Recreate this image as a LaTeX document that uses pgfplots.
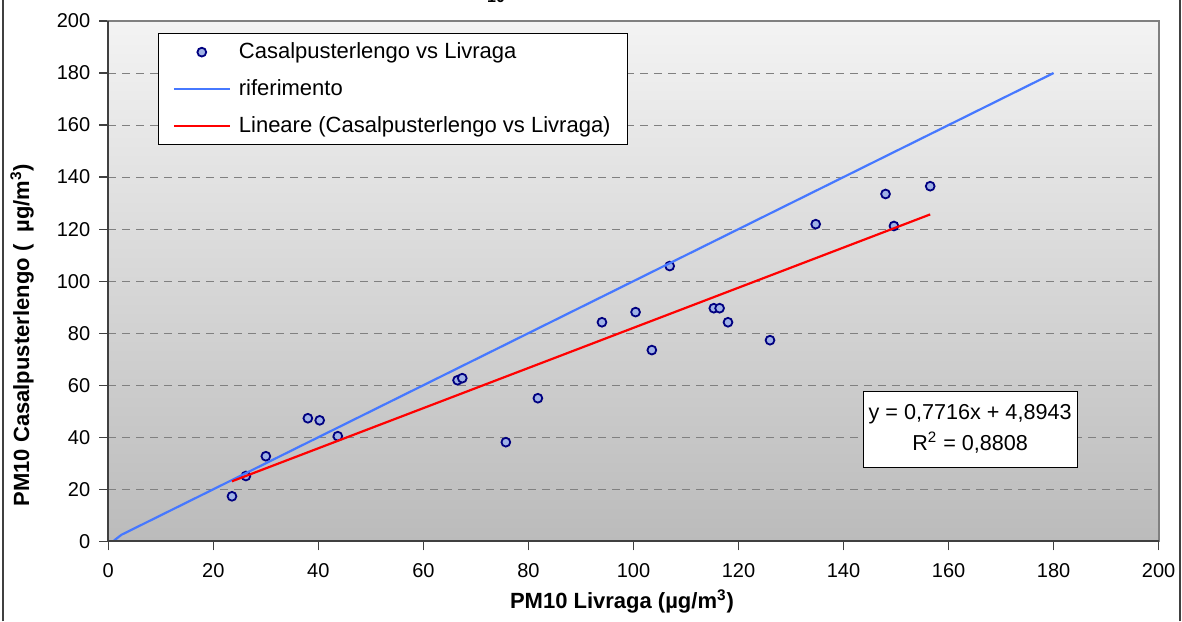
\documentclass[border=0pt]{standalone}
\usepackage{fontspec}
\setmainfont{Liberation Sans}
\usepackage{pgfplots}
\pgfplotsset{compat=1.18}
\definecolor{navy}{RGB}{0,0,128}
\definecolor{mkfill}{RGB}{160,178,230}
\definecolor{refblue}{RGB}{70,120,255}
\definecolor{gridgray}{RGB}{128,128,128}
\definecolor{axdark}{RGB}{64,64,64}
\definecolor{bgtop}{RGB}{243,243,243}
\definecolor{bgbot}{RGB}{187,187,187}

\begin{document}
\begin{tikzpicture}
\begin{axis}[
  scale only axis,
  x=2.6258pt, y=1.30075pt,
  xmin=0, xmax=200, ymin=0, ymax=200,
  xtick={0,20,...,200}, ytick={0,20,...,200},
  tick align=outside,
  major tick length=4.5pt,
  xtick pos=bottom, ytick pos=left,
  tick style={axdark, line width=0.6pt},
  axis line style={draw=gray, line width=1pt},
  ymajorgrids,
  grid style={gridgray, dash pattern=on 4pt off 3pt, line width=0.5pt},
  axis background/.style={top color=bgtop, bottom color=bgbot},
  ticklabel style={font=\fontsize{10}{12}\selectfont},
  xticklabel style={yshift=-3pt},
  yticklabel style={xshift=-1pt},
  /pgf/number format/assume math mode=true,
  clip mode=individual,
  legend style={at={(0.0476,0.9764)}, anchor=north west, draw=black, fill=white,
    font=\fontsize{11}{13}\selectfont, inner xsep=7pt, inner ysep=3pt,
    row sep=6pt, nodes={inner sep=1.5pt},
    /tikz/every odd column/.append style={column sep=2.5pt}},
  legend cell align=left,
  legend image code/.code={\draw[mark repeat=2,mark phase=2,#1] plot coordinates {(0pt,0pt)(14pt,0pt)(28pt,0pt)};},
]
\addplot[only marks, mark=*, mark size=2.2pt,
  mark options={draw=navy, fill=mkfill, line width=0.9pt}] coordinates {
  (23.55,17.3) (26.2,25.1) (30.0,32.7) (38.0,47.3) (40.25,46.5) (43.7,40.4)
  (66.5,61.9) (67.4,62.7) (75.7,38.1) (81.8,55.0) (94.0,84.2) (100.4,88.1)
  (103.5,73.5) (106.9,105.8) (115.3,89.6) (116.4,89.6) (118.0,84.2) (126.0,77.3)
  (134.7,121.9) (148.0,133.5) (149.6,121.2) (156.5,136.5)
};
\addlegendentry{Casalpusterlengo vs Livraga}
\addplot[refblue, line width=1.1pt] coordinates {(1.1,0.3) (2.5,2.5) (180,180)};
\addlegendentry{riferimento}
\addplot[red, line width=1.1pt] coordinates {(23.55,23.07) (156.5,125.65)};
\addlegendentry{Lineare (Casalpusterlengo vs Livraga)}
\draw[axdark, line width=1pt] (rel axis cs:0,1) -- (rel axis cs:0,0) -- (rel axis cs:1,0);
\node[draw=black, fill=white, minimum width=107pt, minimum height=38pt, align=center,
  inner sep=0pt, font=\fontsize{10.8}{15.5}\selectfont] at (axis cs:164.1,43.2)
  {y = 0,7716x + 4,8943\\R\textsuperscript{2} = 0,8808};
\end{axis}
\node[font=\bfseries\fontsize{11}{13}\selectfont, anchor=base] at (256.85pt,-33.35pt)
  {PM10 Livraga (µg/m\textsuperscript{3})};
\node[font=\bfseries\fontsize{11}{13}\selectfont, rotate=90] at (-43.15pt,103.15pt)
  {PM10 Casalpusterlengo (\ \ µg/m\textsuperscript{3})};
\node[font=\bfseries\fontsize{8}{9}\selectfont, anchor=base] at (193.85pt,269.15pt) {10};
\draw[axdark, line width=1.2pt] (-52.65pt,-40pt) -- (-52.65pt,271pt);
\draw[axdark, line width=1.2pt] (535.85pt,-40pt) -- (535.85pt,271pt);
\pgfresetboundingbox
\useasboundingbox (-54.15pt,-39.85pt) rectangle (536.85pt,270.65pt);
\end{tikzpicture}
\end{document}
